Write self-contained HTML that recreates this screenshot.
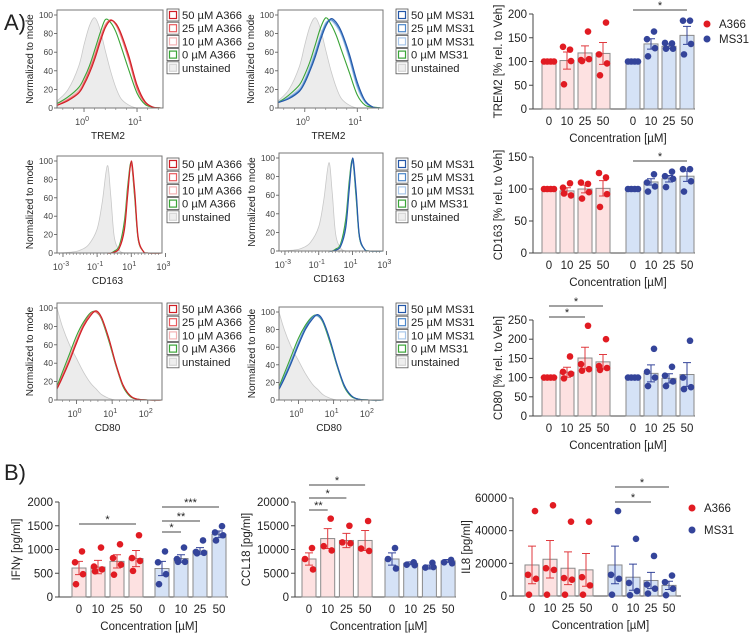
<!DOCTYPE html>
<html><head><meta charset="utf-8">
<style>
body{margin:0;background:#fff;}
svg{display:block;font-family:"Liberation Sans",sans-serif;}
</style></head>
<body>
<svg id="fig" width="754" height="637" viewBox="0 0 754 637"></svg>
<script>
// ---------- Bar chart data ----------
const concLabels = ["0","10","25","50"];
// TREM2
const tremA_pts = [[100,100,100,100],[125,131,101,52],[163,103,105,101],[182,115,96,71]];
const tremA_mean = [100,102,118,117];
const tremA_err = [0,18,15,23];
const tremB_pts = [[100,100,100,100],[163,147,128,111],[138,139,127,127],[186,186,137,115]];
const tremB_mean = [100,137,132,155];
const tremB_err = [0,11,5,19];
const tremTicks = [0,50,100,150,200];
// CD163
const cd163A_pts = [[100,100,100,100],[109,102,90,93],[108,110,95,85],[118,125,92,72]];
const cd163A_mean = [100,97,100,101];
const cd163A_err = [0,5,6,12];
const cd163B_pts = [[100,100,100,100],[123,110,104,96],[127,120,116,103],[131,131,112,96]];
const cd163B_mean = [100,111,116,120];
const cd163B_err = [0,5,5,8];
const cd163Ticks = [0,50,100,150];
// CD80
const cd80A_pts = [[100,100,100,100],[155,115,110,98],[235,135,122,118],[200,130,125,120]];
const cd80A_mean = [100,114,151,141];
const cd80A_err = [0,13,28,19];
const cd80B_pts = [[100,100,100,100],[175,115,100,78],[128,105,90,78],[196,100,75,70]];
const cd80B_mean = [100,111,98,108];
const cd80B_err = [0,22,12,31];
const cd80Ticks = [0,50,100,150,200,250];
// IFNg
const ifnA_pts = [[960,730,480,270],[1040,640,580,540],[1110,820,680,470],[1300,820,760,550]];
const ifnA_mean = [610,630,750,810];
const ifnA_err = [140,140,140,170];
const ifnB_pts = [[960,730,480,270],[1040,800,740,740],[1190,950,930,920],[1490,1360,1300,1190]];
const ifnB_mean = [600,810,970,1320];
const ifnB_err = [150,80,70,70];
const ifnTicks = [0,500,1000,1500,2000];
// CCL18
const cclA_pts = [[10300,8000,5800],[16500,10700,9800],[15000,11500,11300],[16000,10200,9700]];
const cclA_mean = [8000,12300,11900,11900];
const cclA_err = [1300,2100,1500,2100];
const cclB_pts = [[10300,8000,6000],[7300,6800,6700],[7200,6200,6300],[7800,7300,7100]];
const cclB_mean = [8000,7100,6300,7600];
const cclB_err = [1300,300,400,300];
const cclTicks = [0,5000,10000,15000,20000];
// IL8
const il8A_pts = [[52000,13000,10500,800],[55500,17000,16000,800],[45500,11000,10000,800],[45500,11500,6500,800]];
const il8A_mean = [19000,22500,17000,16000];
const il8A_err = [11500,11500,10000,10000];
const il8B_pts = [[52000,13000,10500,800],[35000,8000,3000,500],[24500,7000,4500,1500],[12500,8500,4500,500]];
const il8B_mean = [19000,11500,9500,6500];
const il8B_err = [11500,8000,5000,2500];
const il8Ticks = [0,20000,40000,60000];

// ---------- Histogram data (log10 intensity grid, % of mode) ----------
const tremLog = [-0.5,-0.3,-0.1,0,0.1,0.2,0.3,0.4,0.5,0.6,0.7,0.85,1.0,1.15,1.3,1.45];
const tremUnst = [8,20,45,68,88,97,85,62,40,22,10,3,0,0,0,0];
const tremG = [5,12,22,32,45,62,80,95,92,82,66,40,16,4,1,0];
const tremR1 = [3,8,16,25,37,52,70,86,94,91,80,55,25,7,1,0];
const tremR2 = [3,9,17,27,40,55,73,88,95,90,78,52,22,6,1,0];
const tremR3 = [4,10,19,29,42,58,75,90,94,89,76,50,20,5,1,0];
const tremB1 = [6,10,18,27,40,55,73,88,96,92,82,58,28,8,1,0];
const tremB2 = [6,11,19,29,42,58,76,90,95,90,80,55,25,7,1,0];
const tremB3 = [7,12,21,31,45,61,78,92,94,88,78,52,22,6,1,0];
const tremBG = [6,14,25,36,50,68,86,97,90,78,62,38,14,3,1,0];

const cdLog = [-3.3,-2.5,-2,-1.5,-1,-0.7,-0.4,-0.2,0,0.3,0.6,0.8,1.0,1.2,1.4,1.7,2.0,2.8];
const cdUnst = [0,1,3,9,26,55,95,62,18,3,0,0,0,0,0,0,0,0];
const cdG = [0,0,0,0,0,0,0,0,2,8,35,75,98,60,15,2,0,0];
const cdR1 = [0,0,0,0,0,0,0,0,1,5,25,65,100,68,18,2,0,0];
const cdR2 = [0,0,0,0,0,0,0,0,1,6,28,70,97,64,16,2,0,0];
const cdR3 = [0,0,0,0,0,0,0,0,1,6,30,72,96,62,16,2,0,0];

const cd80Log = [-0.55,-0.4,-0.2,0,0.2,0.4,0.55,0.7,0.9,1.1,1.3,1.5,1.7,2.0,2.4];
const cd80Unst = [100,80,60,45,30,18,12,6,2,0,0,0,0,0,0];
const cd80G = [15,30,50,70,85,95,96,88,65,38,15,4,1,0,0];
const cd80R1 = [12,24,42,62,80,92,97,90,68,40,17,5,1,0,0];
const cd80R2 = [13,26,44,64,82,94,96,89,67,39,16,5,1,0,0];
const cd80R3 = [14,27,46,66,83,94,95,88,66,38,16,4,1,0,0];

// ---------- helpers ----------
const NS = "http://www.w3.org/2000/svg";
const svg = document.getElementById("fig");
function mk(tag, attrs, parent){
  const e = document.createElementNS(NS, tag);
  for (const k in attrs) e.setAttribute(k, attrs[k]);
  (parent||svg).appendChild(e);
  return e;
}
function txt(s, x, y, size, anchor, parent, fill){
  const t = mk("text", {x:x, y:y, "font-size":size, "text-anchor":anchor||"start", fill:fill||"#222"}, parent);
  t.textContent = s;
  return t;
}
function smoothPath(pts){
  let d = "M"+pts[0][0]+","+pts[0][1];
  for (let i=0;i<pts.length-1;i++){
    const p0=pts[Math.max(0,i-1)], p1=pts[i], p2=pts[i+1], p3=pts[Math.min(pts.length-1,i+2)];
    const c1x=p1[0]+(p2[0]-p0[0])/6, c1y=p1[1]+(p2[1]-p0[1])/6;
    const c2x=p2[0]-(p3[0]-p1[0])/6, c2y=p2[1]-(p3[1]-p1[1])/6;
    d += " C"+c1x.toFixed(1)+","+c1y.toFixed(1)+" "+c2x.toFixed(1)+","+c2y.toFixed(1)+" "+p2[0].toFixed(1)+","+p2[1].toFixed(1);
  }
  return d;
}

// ---------- Panel labels ----------
const la = txt("A)", 4, 30, 22, "start");  
const lb = txt("B)", 4, 480, 22, "start");  

// ---------- Histogram ----------
function histogram(cfg){
  const g = mk("g", {});
  
  
  const {x0,x1,y0,y1,lmin,lmax} = cfg;
  const sx = l => x0 + (l-lmin)/(lmax-lmin)*(x1-x0);
  const sy = v => y1 - v/100*(y1-y0-5);
  const up = cfg.log.map((l,i)=>[sx(l), sy(cfg.unst[i])]);
  const ud = smoothPath(up);
  const uf = mk("path", {d: ud+" L"+sx(cfg.log[cfg.log.length-1])+","+y1+" L"+sx(cfg.log[0])+","+y1+" Z", fill:"#ececec", stroke:"#c8c8c8", "stroke-width":0.8}, g);
   
  cfg.curves.forEach(c=>{
    const p = mk("path", {d: smoothPath(cfg.log.map((l,i)=>[sx(l), sy(c.y[i])])), fill:"none", stroke:c.color, "stroke-width":1.1}, g);
    
    
  });
  const b = mk("rect", {x:x0, y:y0, width:x1-x0, height:y1-y0, fill:"none", stroke:"#777", "stroke-width":1}, g);
   
  [0,20,40,60,80,100].forEach(v=>{
    mk("line",{x1:x0-3,x2:x0,y1:sy(v),y2:sy(v),stroke:"#555","stroke-width":0.8},g);
    txt(String(v), x0-4, sy(v)+3, 8.5, "end", g, "#444");
  });
  cfg.xticks.forEach(e=>{
    const X = sx(e);
    mk("line",{x1:X,x2:X,y1:y1,y2:y1+4,stroke:"#555","stroke-width":0.8},g);
    const t = mk("text",{x:X-2,y:y1+17,"font-size":9,"text-anchor":"middle",fill:"#444"},g);
    t.textContent = "10";
    const s = mk("tspan",{dy:-4,"font-size":7},t); s.textContent = String(e);
  });
  for (let l=Math.ceil(lmin*5)/5; l<lmax; l+=0.2){ const X=sx(l); mk("line",{x1:X,x2:X,y1:y1,y2:y1+2,stroke:"#777","stroke-width":0.6},g); }
  const xl = txt(cfg.xlabel, (x0+x1)/2-2, y1+31, 10, "middle", g, "#222");
   
  const yl = txt("Normalized to mode", 0, 0, 10, "middle", g, "#222");
  yl.setAttribute("transform","translate("+(x0-24)+","+((y0+y1)/2)+") rotate(-90)");
   
  const lg = mk("g",{},g);
   
  cfg.legend.forEach((it,i)=>{
    const ly = cfg.ly + i*13.2;
    const e = mk("g",{},lg);
     
    mk("rect",{x:cfg.lx,y:ly-6,width:12,height:12,fill:"#fff",stroke:"#555","stroke-width":0.8},e);
    mk("rect",{x:cfg.lx+2.5,y:ly-3.5,width:7,height:7,fill:it.fill||"#fff",stroke:it.color,"stroke-width":1.2},e);
    txt(it.label, cfg.lx+15, ly+4, 11.2, "start", e, "#222");
  });
}
const redC = ["#d01f26","#e85a5e","#f3b2b4"], blueC = ["#2457a8","#4b86c9","#a9c7ea"], greenC = "#3aa437";
const legA = [{label:"50 µM A366",color:redC[0]},{label:"25 µM A366",color:redC[1]},{label:"10 µM A366",color:redC[2]},{label:"0 µM A366",color:greenC},{label:"unstained",color:"#d6d6d6",fill:"#eeeeee"}];
const legB = [{label:"50 µM MS31",color:blueC[0]},{label:"25 µM MS31",color:blueC[1]},{label:"10 µM MS31",color:blueC[2]},{label:"0 µM MS31",color:greenC},{label:"unstained",color:"#d6d6d6",fill:"#eeeeee"}];
function curvesA(r1,r2,r3,g){ return [{name:"curve-10uM",y:r3,color:redC[2]},{name:"curve-0uM",y:g,color:greenC},{name:"curve-25uM",y:r2,color:redC[1]},{name:"curve-50uM",y:r1,color:redC[0]}]; }
function curvesB(r1,r2,r3,g){ return [{name:"curve-10uM",y:r3,color:blueC[2]},{name:"curve-0uM",y:g,color:greenC},{name:"curve-25uM",y:r2,color:blueC[1]},{name:"curve-50uM",y:r1,color:blueC[0]}]; }

histogram({name:"trem2-histogram-a366",x0:57,x1:163,y0:10,y1:108,lmin:-0.51,lmax:1.49,log:tremLog,unst:tremUnst,curves:curvesA(tremR1,tremR2,tremR3,tremG),xticks:[0,1],xlabel:"TREM2",legend:legA,lx:167,ly:15});
histogram({name:"trem2-histogram-ms31",x0:278,x1:383,y0:10,y1:108,lmin:-0.51,lmax:1.49,log:tremLog,unst:tremUnst,curves:curvesB(tremB1,tremB2,tremB3,tremBG),xticks:[0,1],xlabel:"TREM2",legend:legB,lx:396,ly:15});
histogram({name:"cd163-histogram-a366",x0:57,x1:162,y0:156,y1:253,lmin:-3.35,lmax:2.8,log:cdLog,unst:cdUnst,curves:curvesA(cdR1,cdR2,cdR3,cdG),xticks:[-3,-1,1,3],xlabel:"CD163",legend:legA,lx:167,ly:164});
histogram({name:"cd163-histogram-ms31",x0:279,x1:383,y0:153,y1:251,lmin:-3.35,lmax:2.8,log:cdLog,unst:cdUnst,curves:curvesB(cdR1,cdR2,cdR3,cdG),xticks:[-3,-1,1,3],xlabel:"CD163",legend:legB,lx:396,ly:164});
histogram({name:"cd80-histogram-a366",x0:57,x1:162,y0:303,y1:400,lmin:-0.55,lmax:2.4,log:cd80Log,unst:cd80Unst,curves:curvesA(cd80R1,cd80R2,cd80R3,cd80G),xticks:[0,1,2],xlabel:"CD80",legend:legA,lx:167,ly:309});
histogram({name:"cd80-histogram-ms31",x0:279,x1:383,y0:307,y1:400,lmin:-0.55,lmax:2.4,log:cd80Log,unst:cd80Unst,curves:curvesB(cd80R1,cd80R2,cd80R3,cd80G),xticks:[0,1,2],xlabel:"CD80",legend:legB,lx:396,ly:309});

// ---------- Bar charts ----------
function barChart(cfg){
  const g = mk("g",{});
  
  
  const maxV = cfg.ticks[cfg.ticks.length-1];
  const sy = v => cfg.y0 - v/maxV*(cfg.y0-cfg.yTop);
  const bx = (grp,i) => (grp===0?cfg.aStart:cfg.bStart) + i*cfg.step;
  mk("line",{x1:cfg.ax,x2:cfg.ax,y1:cfg.yTop,y2:cfg.y0,stroke:"#444","stroke-width":1},g);
  mk("line",{x1:cfg.ax,x2:cfg.xEnd,y1:cfg.y0,y2:cfg.y0,stroke:"#444","stroke-width":1},g);
  cfg.ticks.forEach(v=>{
    mk("line",{x1:cfg.ax-4,x2:cfg.ax,y1:sy(v),y2:sy(v),stroke:"#444","stroke-width":1},g);
    const t = txt(String(v), cfg.ax-6, sy(v)+4, 11.5, "end", g, "#222");
     
  });
  const yl = txt(cfg.ylabel, 0, 0, 11.5, "middle", g, "#222");
  yl.setAttribute("transform","translate("+cfg.ylx+","+((cfg.y0+cfg.yTop)/2)+") rotate(-90)");
   
  const groups = [
    {pts:cfg.A[0],mean:cfg.A[1],err:cfg.A[2],fill:"#fde1e1",dot:"#e11b22",ec:"#e03a3f",nm:"a366"},
    {pts:cfg.B[0],mean:cfg.B[1],err:cfg.B[2],fill:"#d5e2f6",dot:"#34449a",ec:"#34449a",nm:"ms31"}];
  const bw = 14;
  groups.forEach((G,gi)=>{
    G.mean.forEach((m,i)=>{
      const cx = bx(gi,i);
      const r = mk("rect",{x:cx-bw/2,y:sy(m),width:bw,height:cfg.y0-sy(m),fill:G.fill,stroke:"#8a8a8a","stroke-width":1},g);
      
      
      if (G.err[i]>0){
        const e = mk("path",{d:"M"+cx+","+sy(m-G.err[i])+"V"+sy(m+G.err[i])+"M"+(cx-4)+","+sy(m+G.err[i])+"H"+(cx+4)+"M"+(cx-4)+","+sy(m-G.err[i])+"H"+(cx+4),stroke:G.ec,"stroke-width":1,fill:"none"},g);
         
      }
      const n = G.pts[i].length;
      const offs = n===4?[-5,-1.7,1.7,5]:[-5,0,5];
      G.pts[i].forEach((v,k)=>{
        const c = mk("circle",{cx:cx+(G.err[i]===0?offs[k]:[3,-4,4,-3][k%4]),cy:sy(v),r:3.3,fill:G.dot},g);
         
      });
      const t = txt(concLabels[i], cx, cfg.y0+16, 11.5, "middle", g, "#222");
       
    });
  });
  const xl = txt("Concentration [µM]", (cfg.aStart+cfg.bStart+3*cfg.step)/2, cfg.y0+33, 11.5, "middle", g, "#222");
   
  (cfg.sig||[]).forEach(s=>{
    const x1 = bx(s[0],s[1]), x2 = bx(s[0],s[2]);
    const l = mk("line",{x1:x1,x2:x2,y1:s[3],y2:s[3],stroke:"#444","stroke-width":0.9},g);
     
    txt(s[4], (x1+x2)/2, s[3]-1, 11, "middle", g, "#222");
  });
  if (cfg.legend){
    const lg = mk("g",{},g);
     
    [["A366","#e11b22"],["MS31","#34449a"]].forEach((it,i)=>{
      const e = mk("g",{},lg);
       
      mk("circle",{cx:cfg.legend[0],cy:cfg.legend[1]+i*cfg.legend[2],r:3.5,fill:it[1]},e);
      txt(it[0], cfg.legend[0]+12, cfg.legend[1]+i*cfg.legend[2]+4, 11.5, "start", e, "#222");
    });
  }
}
barChart({name:"trem2-bar-chart",ax:533,xEnd:695,y0:109,yTop:14,ticks:tremTicks,aStart:549,bStart:633,step:18,ylabel:"TREM2 [% rel. to Veh]",ylx:502,
  A:[tremA_pts,tremA_mean,tremA_err],B:[tremB_pts,tremB_mean,tremB_err],sig:[[1,0,3,10,"*"]],legend:[707,24,15]});
barChart({name:"cd163-bar-chart",ax:533,xEnd:695,y0:253,yTop:157,ticks:cd163Ticks,aStart:549,bStart:633,step:18,ylabel:"CD163 [% rel. to Veh]",ylx:502,
  A:[cd163A_pts,cd163A_mean,cd163A_err],B:[cd163B_pts,cd163B_mean,cd163B_err],sig:[[1,0,3,161,"*"]]});
barChart({name:"cd80-bar-chart",ax:533,xEnd:695,y0:416,yTop:320,ticks:cd80Ticks,aStart:549,bStart:633,step:18,ylabel:"CD80 [% rel. to Veh]",ylx:502,
  A:[cd80A_pts,cd80A_mean,cd80A_err],B:[cd80B_pts,cd80B_mean,cd80B_err],sig:[[0,0,3,306,"*"],[0,0,2,317,"*"]]});
barChart({name:"ifng-bar-chart",ax:59,xEnd:228,y0:597,yTop:502,ticks:ifnTicks,aStart:79,bStart:162,step:19,ylabel:"IFNγ [pg/ml]",ylx:20,
  A:[ifnA_pts,ifnA_mean,ifnA_err],B:[ifnB_pts,ifnB_mean,ifnB_err],sig:[[0,0,3,524,"*"],[1,0,1,532,"*"],[1,0,2,521,"**"],[1,0,3,507,"***"]]});
barChart({name:"ccl18-bar-chart",ax:295,xEnd:456,y0:597,yTop:502,ticks:cclTicks,aStart:309,bStart:392,step:18.7,ylabel:"CCL18 [pg/ml]",ylx:250,
  A:[cclA_pts,cclA_mean,cclA_err],B:[cclB_pts,cclB_mean,cclB_err],sig:[[0,0,1,510,"**"],[0,0,2,498,"*"],[0,0,3,485,"*"]]});
barChart({name:"il8-bar-chart",ax:513,xEnd:681,y0:596,yTop:498,ticks:il8Ticks,aStart:532,bStart:615,step:18,ylabel:"IL8 [pg/ml]",ylx:470,
  A:[il8A_pts,il8A_mean,il8A_err],B:[il8B_pts,il8B_mean,il8B_err],sig:[[1,0,2,502,"*"],[1,0,3,487,"*"]],legend:[692,508,22]});
</script>
</body></html>
